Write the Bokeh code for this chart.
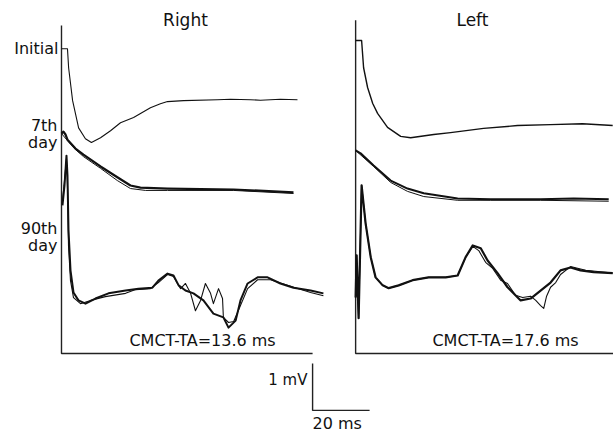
from bokeh.plotting import figure
from bokeh.models import Range1d
from bokeh.core.properties import value
from bokeh.embed import file_html
from bokeh.resources import INLINE

# ---------------- data (time in ms from stimulus, amplitude in mV re. trace baseline) -------------
right_initial_t = [0, 2.1, 2.5, 3.9, 6.0, 8.4, 10.5, 13.7, 17.2, 20.7, 25.3, 31.2, 34.7, 37.2, 42.8, 54.7, 59.3, 66.3, 69.8, 76.8, 82.8]
right_initial_mv = [1.085, 1.085, 0.68, -0.02, -0.60, -0.83, -0.91, -0.81, -0.66, -0.49, -0.38, -0.17, -0.085, -0.04, -0.02, 0.0, 0.01, 0.0, -0.01, 0.01, 0.0]

right_7th_a_t = [0, 0.7, 1.4, 2.1, 4.9, 7.7, 13.7, 19.6, 24.2, 27.7, 37.2, 60.4, 81.4]
right_7th_a_mv = [1.19, 1.23, 1.17, 1.06, 0.87, 0.74, 0.49, 0.26, 0.085, 0.04, 0.02, 0.0, -0.06]
right_7th_b_t = [0, 2.1, 4.9, 7.7, 13.7, 19.6, 24.2, 29.5, 37.2, 60.4, 81.4]
right_7th_b_mv = [1.19, 1.04, 0.85, 0.70, 0.45, 0.19, 0.02, -0.02, -0.02, -0.02, -0.085]

right_90th_a_t = [0.35, 1.05, 1.75, 2.1, 2.46, 3.16, 4.21, 5.96, 8.42, 11.9, 16.5, 22.5, 27.0, 31.9, 34.0, 37.2, 39.3,
                  41.1, 43.5, 46.3, 49.8, 53.3, 56.8, 58.6, 61.1, 62.8, 65.3, 68.8, 72.3, 76.8, 81.4, 87.4, 91.9]
right_90th_a_mv = [1.81, 2.23, 2.87, 2.45, 1.28, 0.43, -0.04, -0.21, -0.28, -0.17, -0.06, 0.0, 0.04, 0.06, 0.21, 0.36, 0.32,
                   0.11, 0.0, -0.06, -0.21, -0.49, -0.57, -0.79, -0.64, -0.21, 0.15, 0.28, 0.28, 0.15, 0.06, 0.0, -0.06]
right_90th_b_t = [0.35, 1.05, 1.75, 2.1, 2.46, 3.16, 4.21, 6.67, 10.2, 15.4, 22.5, 26.0, 31.2, 34.0, 37.2, 39.3, 40.7, 41.8,
                  43.5, 45.3, 47.0, 48.8, 50.5, 52.3, 53.3, 55.1, 56.5, 56.8, 58.6, 60.4, 62.8, 65.3, 68.8, 73.3, 80.4, 87.4, 91.9]
right_90th_b_mv = [1.91, 2.34, 2.81, 2.23, 0.96, 0.21, -0.15, -0.28, -0.21, -0.13, -0.06, 0.02, 0.04, 0.17, 0.34, 0.30, 0.15, 0.04,
                   0.15, -0.06, -0.43, -0.21, 0.15, -0.06, -0.28, 0.04, -0.17, -0.57, -0.68, -0.66, -0.32, 0.04, 0.23, 0.23, 0.09, -0.04, -0.11]

left_initial_t = [0, 2.1, 2.8, 4.2, 6.0, 7.7, 11.2, 15.8, 19.3, 27.4, 33.3, 44.9, 56.8, 68.4, 79.6, 90.2]
left_initial_mv = [1.81, 1.81, 1.23, 0.81, 0.47, 0.26, -0.04, -0.23, -0.26, -0.19, -0.15, -0.06, 0.0, 0.02, 0.04, 0.0]

left_7th_a_t = [0, 1.75, 6.3, 12.3, 18.2, 23.9, 35.8, 47.4, 64.9, 76.5, 88.8]
left_7th_a_mv = [1.04, 0.98, 0.72, 0.40, 0.23, 0.13, 0.02, 0.0, 0.0, 0.02, 0.0]
left_7th_b_t = [0, 6.3, 12.3, 18.2, 23.9, 35.8, 47.4, 64.9, 88.8]
left_7th_b_mv = [1.04, 0.70, 0.36, 0.17, 0.06, -0.02, -0.02, -0.02, -0.04]

left_90th_a_t = [0, 0.35, 1.05, 2.1, 3.5, 5.3, 7.0, 9.5, 11.6, 15.1, 20.0, 25.6, 31.6, 35.8, 38.6, 41.1, 43.9, 46.3,
                 49.8, 53.3, 57.9, 61.4, 64.9, 68.4, 71.9, 75.4, 78.9, 83.5, 90.2]
left_90th_a_mv = [-0.43, 0.47, -0.87, 1.96, 1.15, 0.43, 0.0, -0.17, -0.23, -0.17, -0.06, 0.0, 0.0, 0.04, 0.43, 0.68, 0.62, 0.36,
                  0.09, -0.21, -0.49, -0.45, -0.28, -0.11, 0.15, 0.21, 0.15, 0.11, 0.09]
left_90th_b_t = [0, 0.35, 1.05, 2.1, 3.5, 5.3, 7.0, 9.5, 11.6, 15.1, 20.0, 25.6, 31.6, 35.8, 38.6, 41.1, 43.2, 45.6, 48.1,
                 50.9, 53.3, 56.1, 58.6, 61.4, 63.2, 64.9, 66.0, 67.0, 68.4, 70.2, 71.9, 75.4, 80.7, 90.2]
left_90th_b_mv = [-0.43, 0.47, -0.87, 1.96, 1.15, 0.43, 0.0, -0.17, -0.23, -0.17, -0.06, 0.0, 0.0, 0.04, 0.43, 0.66, 0.57, 0.32, 0.19,
                  -0.06, -0.13, -0.38, -0.43, -0.40, -0.49, -0.60, -0.66, -0.40, -0.21, -0.11, 0.06, 0.23, 0.15, 0.09]

panel_titles = ["Right", "Left"]
row_labels = ["Initial", "7th", "day", "90th", "day"]
cmct_labels = ["CMCT-TA=13.6 ms", "CMCT-TA=17.6 ms"]
scale_labels = ["1 mV", "20 ms"]
scale_mv = 1.0
scale_ms = 20.0

# ---------------- layout (positions in ms / mV of the page) ----------------
RIGHT_X0 = 0.0
LEFT_X0 = 103.2
RIGHT_BASE = {"initial": 5.40, "7th": 3.49, "90th": 1.34}
LEFT_BASE = {"initial": 4.85, "7th": 3.28, "90th": 1.62}
FONT = value("DejaVu Sans")
INK = "#111111"

p = figure(width=613, height=437, output_backend="svg", toolbar_location=None,
           x_range=Range1d(-21.40, 193.68), y_range=Range1d(-1.787, 7.511),
           min_border=0, outline_line_color=None)
p.axis.visible = False
p.grid.visible = False
p.background_fill_color = "white"
p.border_fill_color = "white"


def trace(t, mv, x0, base, w):
    p.line([v + x0 for v in t], [v + base for v in mv], line_color=INK, line_width=w, line_join="round")


# panel frames (left and bottom axis lines)
p.line([RIGHT_X0, RIGHT_X0, 88.1], [6.98, 0, 0], line_color="#222222", line_width=1.4)
p.line([LEFT_X0, LEFT_X0, 195.0], [7.09, 0, 0], line_color="#222222", line_width=1.4)

# right traces
trace(right_initial_t, right_initial_mv, RIGHT_X0, RIGHT_BASE["initial"], 1.1)
trace(right_7th_b_t, right_7th_b_mv, RIGHT_X0, RIGHT_BASE["7th"], 1.0)
trace(right_7th_a_t, right_7th_a_mv, RIGHT_X0, RIGHT_BASE["7th"], 2.2)
trace(right_90th_b_t, right_90th_b_mv, RIGHT_X0, RIGHT_BASE["90th"], 1.1)
trace(right_90th_a_t, right_90th_a_mv, RIGHT_X0, RIGHT_BASE["90th"], 2.0)

# left traces
trace(left_initial_t, left_initial_mv, LEFT_X0, LEFT_BASE["initial"], 1.4)
trace(left_7th_b_t, left_7th_b_mv, LEFT_X0, LEFT_BASE["7th"], 1.0)
trace(left_7th_a_t, left_7th_a_mv, LEFT_X0, LEFT_BASE["7th"], 2.0)
trace(left_90th_b_t, left_90th_b_mv, LEFT_X0, LEFT_BASE["90th"], 1.1)
trace(left_90th_a_t, left_90th_a_mv, LEFT_X0, LEFT_BASE["90th"], 2.2)

# scale bar
SB_X, SB_Y = 88.1, -1.21
p.line([SB_X, SB_X, SB_X + scale_ms], [SB_Y + scale_mv, SB_Y, SB_Y], line_color="#222222", line_width=1.4)

# texts
p.text(x=[43.5, 144.2], y=[7.09, 7.09], text=panel_titles, text_font=FONT, text_font_size=value("17px"),
       text_align="center", text_baseline="middle", text_color=INK)
p.text(x=[-1.05, -1.4, -1.4, -1.4, -1.4], y=[6.49, 4.85, 4.49, 2.66, 2.30], text=row_labels, text_font=FONT,
       text_font_size=value("16px"), text_align="right", text_baseline="middle", text_color=INK)
p.text(x=[49.5, 155.8], y=[0.28, 0.28], text=cmct_labels, text_font=FONT, text_font_size=value("16px"),
       text_align="center", text_baseline="middle", text_color=INK)
p.text(x=[86.3], y=[-0.57], text=[scale_labels[0]], text_font=FONT, text_font_size=value("15px"),
       text_align="right", text_baseline="middle", text_color=INK)
p.text(x=[88.1], y=[-1.70], text=[scale_labels[1]], text_font=FONT, text_font_size=value("16px"),
       text_align="left", text_baseline="bottom", text_color=INK)

open("out.html", "w").write(file_html(p, INLINE))
